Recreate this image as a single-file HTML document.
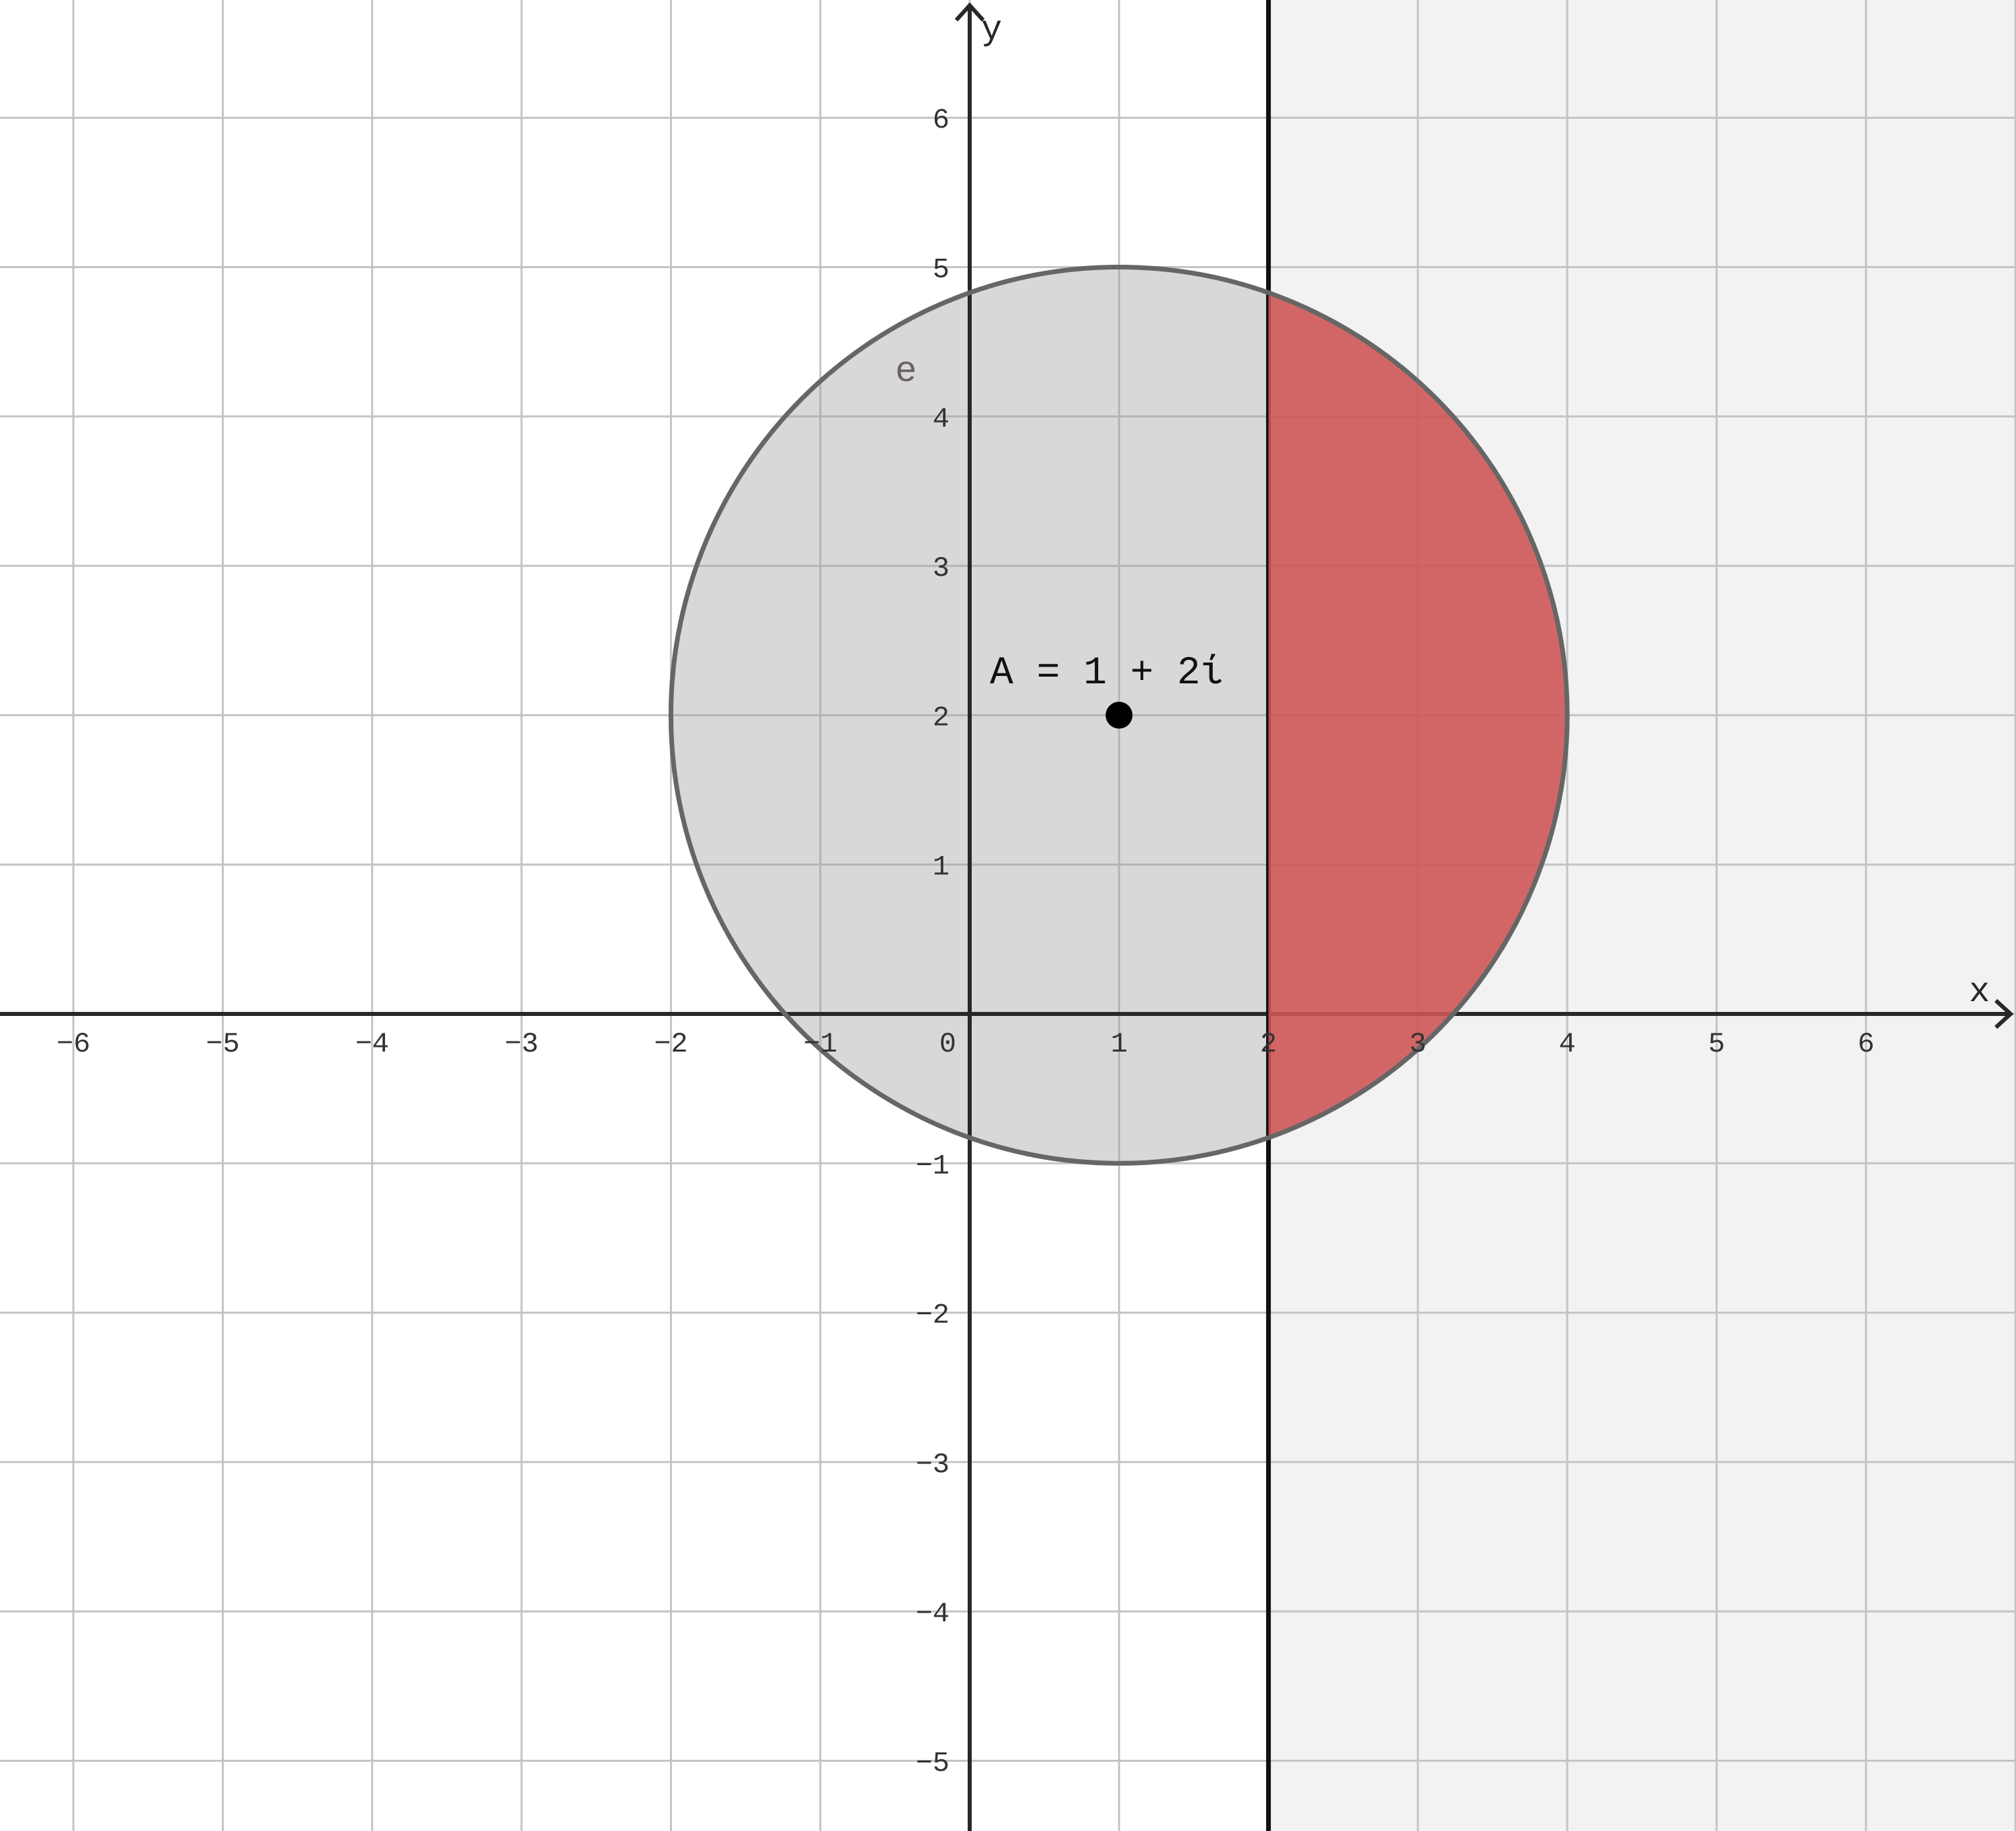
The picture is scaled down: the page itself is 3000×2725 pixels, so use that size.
<!DOCTYPE html>
<html><head><meta charset="utf-8"><style>
html,body{margin:0;padding:0;background:#fff;overflow:hidden;width:3000px;height:2725px;}
svg{display:block;}
text{font-family:"Liberation Mono","DejaVu Sans Mono",monospace;}
</style></head>
<body>
<svg id="chart" width="3000" height="2725" viewBox="0 0 3000 2725" xmlns="http://www.w3.org/2000/svg">
<defs>
<clipPath id="halfplane"><rect id="hpclip" x="0" y="0" width="3000" height="2725"/></clipPath>
</defs>
<g id="layer"></g>
</svg>
<script>
const xTicks = [-6,-5,-4,-3,-2,-1,0,1,2,3,4,5,6];
const yTicks = [-5,-4,-3,-2,-1,1,2,3,4,5,6];
const circleCenter = [1, 2];
const circleRadius = [3];
const lineX = [2];
const pointA = [1, 2];
const pointLabel = ["A = 1 + 2ί"];

const W = 3000, H = 2725, OX = 1443, OY = 1509, U = 222.3;
const sx = v => OX + v*U;
const sy = v => OY - v*U;
const NS = "http://www.w3.org/2000/svg";
const layer = document.getElementById('layer');
function mk(tag, attrs, parent){
  const e = document.createElementNS(NS, tag);
  for (const k in attrs) e.setAttribute(k, attrs[k]);
  (parent||layer).appendChild(e);
  return e;
}
const hp = mk('rect',{x:sx(lineX[0]),y:0,width:W-sx(lineX[0]),height:H,fill:'#f2f2f2'});


const grid = mk('g',{stroke:'#c4c4c4','stroke-width':3});


for (let v=-7; v<=7; v++){
  mk('line',{x1:sx(v),x2:sx(v),y1:0,y2:H},grid);
  mk('line',{y1:sy(v),y2:sy(v),x1:0,x2:W},grid);
}
const circ = mk('circle',{cx:sx(circleCenter[0]),cy:sy(circleCenter[1]),r:circleRadius[0]*U,fill:'#d8d8d8'});


const dc = mk('clipPath',{id:'diskclip'}, document.querySelector('defs'));
mk('circle',{cx:sx(circleCenter[0]),cy:sy(circleCenter[1]),r:circleRadius[0]*U},dc);
const grid2 = mk('g',{stroke:'#b4b4b4','stroke-width':3,'clip-path':'url(#diskclip)'});


for (let v=-7; v<=7; v++){
  mk('line',{x1:sx(v),x2:sx(v),y1:0,y2:H},grid2);
  mk('line',{y1:sy(v),y2:sy(v),x1:0,x2:W},grid2);
}
const ax = mk('g',{stroke:'#282828','stroke-width':6,fill:'none'});


mk('line',{x1:0,x2:W-8,y1:OY,y2:OY},ax);
mk('line',{x1:OX,x2:OX,y1:8,y2:H},ax);
mk('polyline',{points:`${W-30},${OY-20} ${W-8},${OY} ${W-30},${OY+20}`},ax);
mk('polyline',{points:`${OX-20},${30} ${OX},${8} ${OX+20},${30}`},ax);
const vl = mk('line',{x1:sx(lineX[0]),x2:sx(lineX[0]),y1:0,y2:H,stroke:'#111','stroke-width':7});


document.getElementById('hpclip').setAttribute('x', sx(lineX[0]));
const red = mk('circle',{cx:sx(circleCenter[0]),cy:sy(circleCenter[1]),r:circleRadius[0]*U,fill:'#d05555','fill-opacity':0.88,'clip-path':'url(#halfplane)'});


const cs = mk('circle',{cx:sx(circleCenter[0]),cy:sy(circleCenter[1]),r:circleRadius[0]*U,fill:'none',stroke:'#666','stroke-width':7});


xTicks.forEach(v=>{
  const t = mk('text',{x:v===0?sx(v)-20:sx(v),y:OY+56,'font-size':42,fill:'#333','text-anchor':v===0?'end':'middle'});
  t.textContent = v<0 ? '\u2212'+(-v) : String(v);
  
  
});
yTicks.forEach(v=>{
  const t = mk('text',{x:OX-30,y:sy(v)+15,'font-size':42,fill:'#333','text-anchor':'end'});
  t.textContent = v<0 ? '\u2212'+(-v) : String(v);
  
  
});
const xl = mk('text',{x:2930,y:1490,'font-size':52,fill:'#282828'}); xl.textContent='x';


const yl = mk('text',{x:1460,y:58,'font-size':52,fill:'#282828'}); yl.textContent='y';


const pt = mk('circle',{cx:sx(pointA[0]),cy:sy(pointA[1]),r:20,fill:'#000'});


const pl = mk('text',{x:1473,y:1017,'font-size':58,fill:'#111'}); pl.textContent=pointLabel[0];


const el = mk('text',{x:1332,y:567,'font-size':54,fill:'#6b6068'}); el.textContent='e';


</script>
</body></html>
